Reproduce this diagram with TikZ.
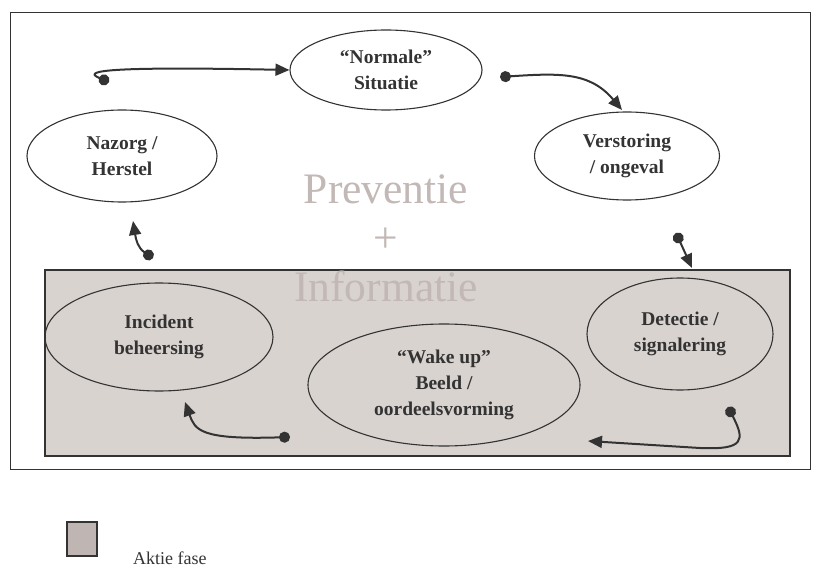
\documentclass[tikz,border=0pt]{standalone}
\usepackage{fontspec}
\setmainfont{Liberation Serif}
\usetikzlibrary{arrows.meta,shapes.geometric}
\definecolor{phase}{HTML}{D9D3D0}
\definecolor{legendfill}{HTML}{BFB5B2}
\definecolor{ghost}{HTML}{C2B8B5}
\definecolor{ink}{HTML}{333333}
\begin{document}
\begin{tikzpicture}[x=1pt,y=-1pt,
  stage/.style={ellipse,draw=ink,line width=1.1pt,inner sep=0pt,align=center,text=ink,
    font=\fontsize{19.5}{26}\selectfont\bfseries},
  flow/.style={draw=ink,line width=2pt,{Circle[length=11pt]}-{Triangle[length=14pt,width=12pt]}},
]
\useasboundingbox (0,0) rectangle (821,569);
% frame and action phase band
\draw[ink,line width=0.9pt] (10,12) rectangle (810,469);
\draw[ink,line width=1.3pt,fill=phase] (45,270) rectangle (790,456);
% background caption
\node[text=ghost,font=\fontsize{43.5}{49}\selectfont,align=center] (bg) at (386,238) {Preventie\\+\\Informatie};
% stages
\node[stage,minimum width=192pt,minimum height=80pt] (norm) at (386,70) {\textquotedblleft Normale\textquotedblright\\Situatie};
\node[stage,minimum width=190pt,minimum height=92pt] (naz) at (122,156) {Nazorg /\\Herstel};
\node[stage,minimum width=185pt,minimum height=88pt] (vers) at (627,156) {Verstoring\\/ ongeval};
\node[stage,minimum width=228pt,minimum height=108pt] (inc) at (159,337) {Incident\\beheersing};
\node[stage,minimum width=186pt,minimum height=112pt] (det) at (680,334) {Detectie /\\signalering};
\node[stage,minimum width=272pt,minimum height=122pt] (wake) at (444,385) {\textquotedblleft Wake up\textquotedblright\\Beeld /\\oordeelsvorming};
% connector anchors
\coordinate (c1) at (109,82);
\coordinate (c2) at (500,77);
\coordinate (c3) at (676,233);
\coordinate (c4) at (728,407);
\coordinate (c5) at (290,437);
\coordinate (c6) at (153,258);
% connectors
\draw[flow] (c1) .. controls (85,72) and (90,66) .. (norm.west);
\draw[flow] (c2) .. controls (560,73) and (590,72) .. (622,110);
\draw[flow] (c3) -- (692,268);
\draw[flow] (c4) .. controls (745,440) and (745,450) .. (700,448) -- (588,441);
\draw[flow] (c5) .. controls (200,440) and (195,430) .. (185,402);
\draw[flow] (c6) .. controls (138,248) and (136,240) .. (133,221);
% legend
\draw[ink,line width=1.3pt,fill=legendfill] (67,522) rectangle (97,556);
\node[anchor=base west,inner sep=0pt,font=\fontsize{18}{20}\selectfont,text=ink] (leg) at (133,564) {Aktie fase};
\end{tikzpicture}
\end{document}
